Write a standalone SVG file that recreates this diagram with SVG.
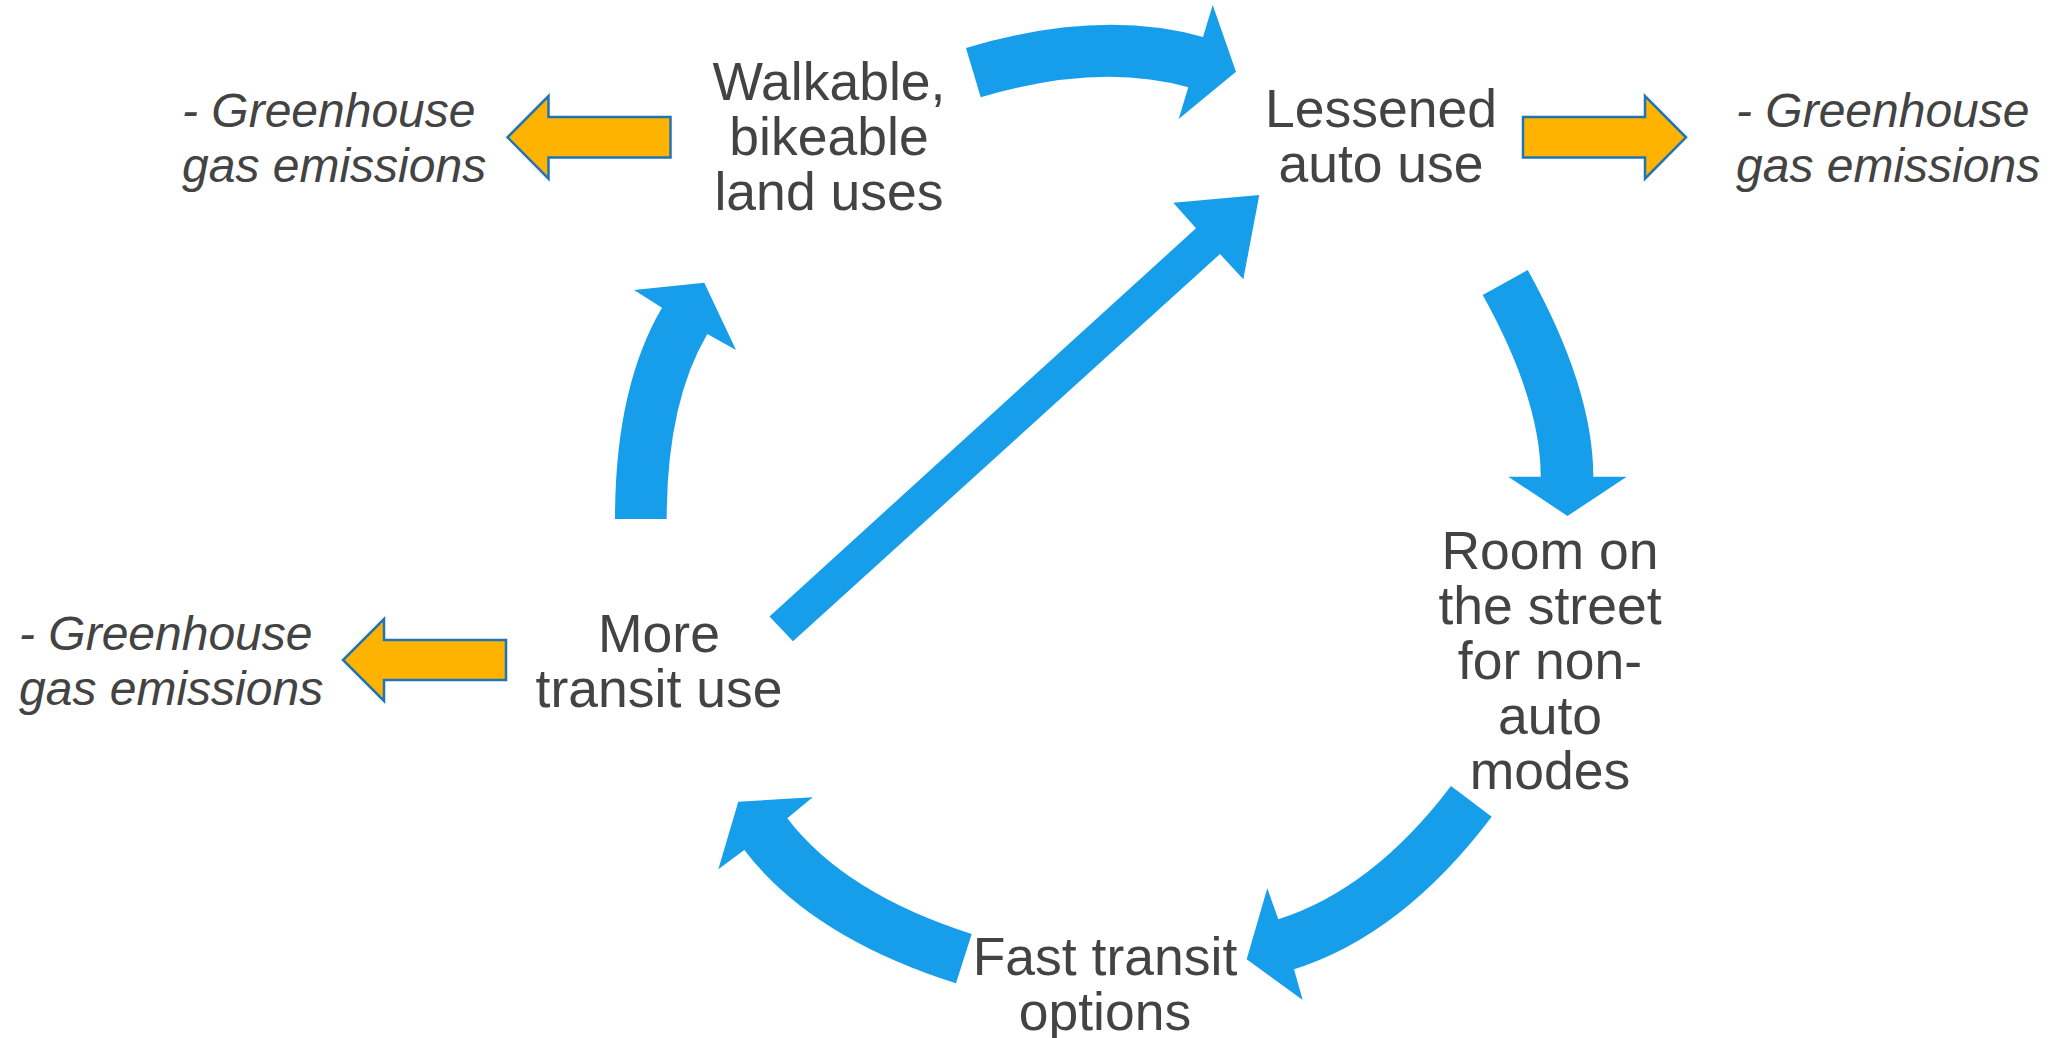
<svg xmlns="http://www.w3.org/2000/svg" width="2052" height="1038" viewBox="0 0 2052 1038">
<style>
.lbl{font-family:"Liberation Sans",Arial,sans-serif;font-size:53.5px;fill:#434343;text-anchor:middle}
.ghg{font-family:"Liberation Sans",Arial,sans-serif;font-size:48px;font-style:italic;fill:#434343}
.flow{fill:#179EEA;stroke:none}
.out{fill:#FDB300;stroke:#1F74B6;stroke-width:2.5;stroke-linejoin:miter}
</style>
<rect width="2052" height="1038" fill="#FFFFFF"/>
<g id="connectors">
  <path id="c-walk-lessened" class="flow" d="M966,48 Q1100,8 1203,37 L1212.7,5 L1236,71.7 L1178.7,119 L1188.3,87.3 Q1099,62 980.7,97.3 Z"/>
  <path id="c-lessened-room" class="flow" d="M1482.7,295 L1527.7,270 Q1593.3,388 1593.3,476.7 L1626.7,476.7 L1567.5,516 L1508.3,476.7 L1540.7,476.7 Q1540.7,399.3 1482.7,295 Z"/>
  <path id="c-room-fast" class="flow" d="M1451,786 Q1373,889 1278.3,919.3 L1267.3,888.3 L1246.7,959.3 L1302.7,1000 L1294,969.3 Q1402.4,934.9 1491.7,816.7 Z"/>
  <path id="c-fast-more" class="flow" d="M971.7,934 Q844.8,893.5 787.3,818.3 L812.7,797.3 L738.3,801.7 L718.3,869.3 L744.3,850 Q810.8,937 956,983.3 Z"/>
  <path id="c-more-walk" class="flow" d="M615,519 Q615,387.6 662,307.7 L634,290 L704.3,282.7 L736,350 L707.3,334 Q666.7,403 666.7,519 Z"/>
  <path id="c-more-lessened" class="flow" d="M769.5,616.4 L1196,228.3 L1173.3,202.7 L1259.3,195 L1243.3,279.3 L1220,254 L793,641.3 Z"/>
  <path id="c-walk-ghg" class="out" d="M670.5,117 L548.5,117 L548.5,96 L507.5,137.3 L548.5,178.6 L548.5,157.6 L670.5,157.6 Z"/>
  <path id="c-lessened-ghg" class="out" d="M1523,117 L1645,117 L1645,96 L1686,137.3 L1645,178.6 L1645,157.6 L1523,157.6 Z"/>
  <path id="c-more-ghg" class="out" d="M506,640 L384,640 L384,619 L343,660 L384,701 L384,680 L506,680 Z"/>
</g>
<g id="n-walkable">
  <text class="lbl" x="829" y="100">Walkable,</text>
  <text class="lbl" x="829" y="155">bikeable</text>
  <text class="lbl" x="829" y="210">land uses</text>
</g>
<g id="n-lessened">
  <text class="lbl" x="1381" y="127">Lessened</text>
  <text class="lbl" x="1381" y="182">auto use</text>
</g>
<g id="n-room">
  <text class="lbl" x="1550" y="569">Room on</text>
  <text class="lbl" x="1550" y="624">the street</text>
  <text class="lbl" x="1550" y="679">for non-</text>
  <text class="lbl" x="1550" y="734">auto</text>
  <text class="lbl" x="1550" y="789">modes</text>
</g>
<g id="n-fast">
  <text class="lbl" x="1105" y="975">Fast transit</text>
  <text class="lbl" x="1105" y="1030">options</text>
</g>
<g id="n-more">
  <text class="lbl" x="659" y="652">More</text>
  <text class="lbl" x="659" y="707">transit use</text>
</g>
<g id="n-ghg-top-left">
  <text class="ghg" x="182" y="127">- Greenhouse</text>
  <text class="ghg" x="182" y="182">gas emissions</text>
</g>
<g id="n-ghg-right">
  <text class="ghg" x="1736" y="127">- Greenhouse</text>
  <text class="ghg" x="1736" y="182">gas emissions</text>
</g>
<g id="n-ghg-bottom-left">
  <text class="ghg" x="19" y="650">- Greenhouse</text>
  <text class="ghg" x="19" y="705">gas emissions</text>
</g>
</svg>
